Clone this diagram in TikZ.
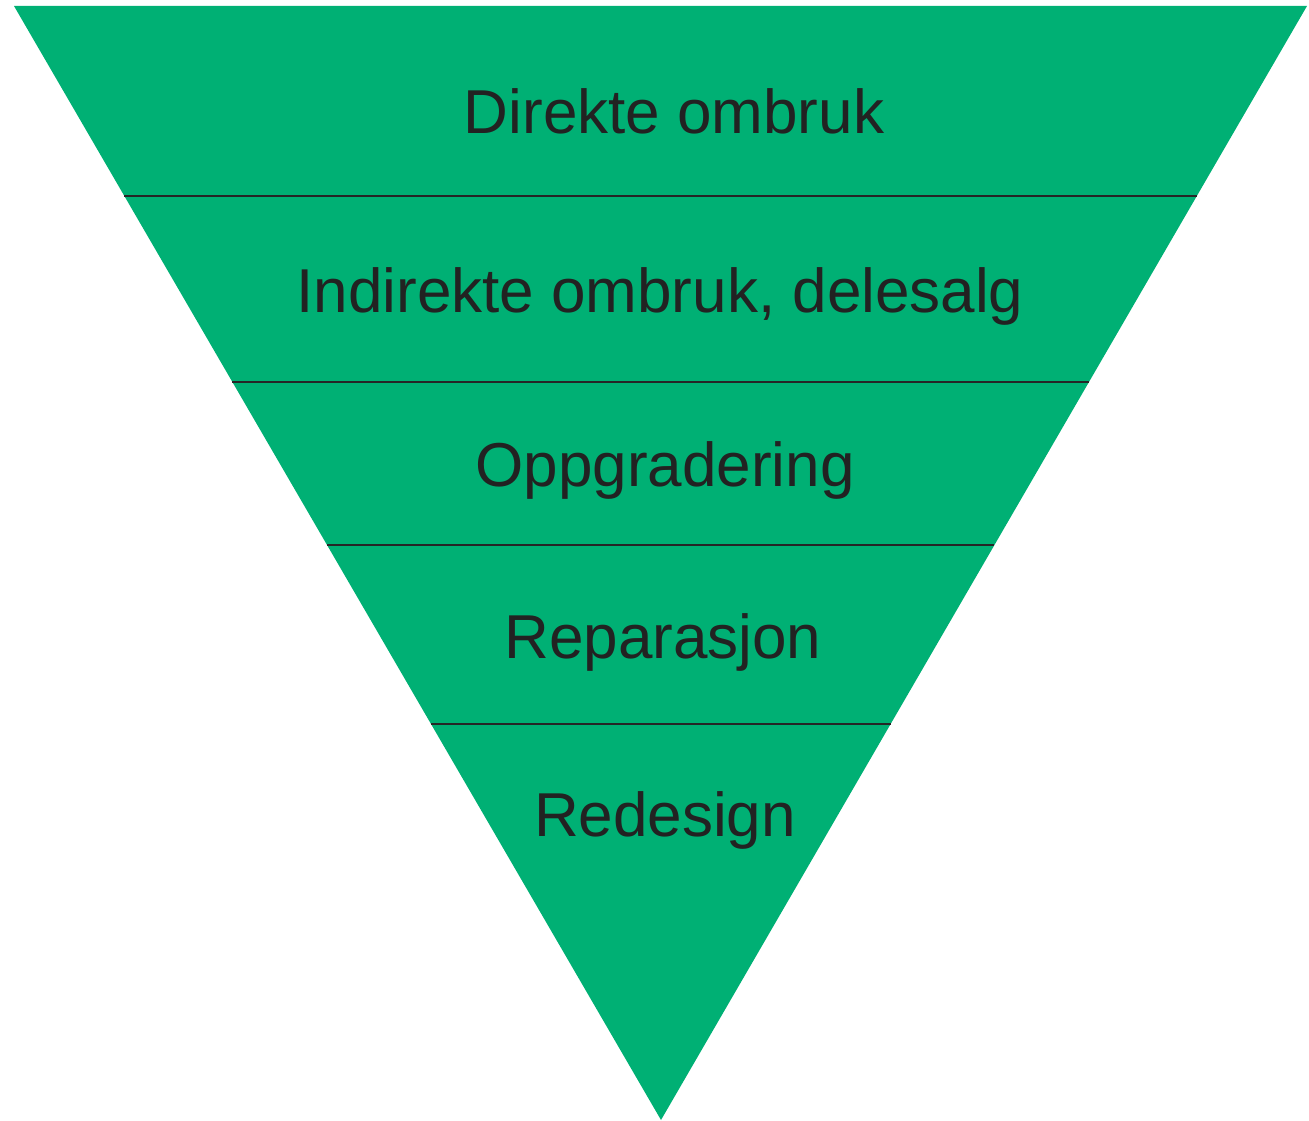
\documentclass[tikz,border=0pt]{standalone}
\usepackage{fontspec}
\setmainfont{Liberation Sans}
\usetikzlibrary{calc}
\definecolor{funnelgreen}{HTML}{00B074}
\definecolor{labelgray}{HTML}{222222}

\begin{document}
\begin{tikzpicture}[x=1pt,y=-1pt]
\tikzset{
	level/.style={draw=none, anchor=base, text=labelgray, inner sep=0pt, font=\fontsize{62}{70}\selectfont},
	divider/.style={draw=black!85, line width=1.2pt}
}
\useasboundingbox (0,0) rectangle (1309,1121);

\coordinate (tl) at (14,6);
\coordinate (tr) at (1307,6);
\coordinate (apex) at (661,1120);
\fill [funnelgreen] (tl) -- (tr) -- (apex) -- cycle;

% divider lines between the levels
\foreach \t/\n in {0.1706/a, 0.3375/b, 0.4838/c, 0.6445/d}
{
	\coordinate (l\n) at ($(tl)!\t!(apex)$);
	\coordinate (r\n) at ($(tr)!\t!(apex)$);
	\draw [divider] (l\n) -- (r\n);
}

\path (674,134) node[level] (direkte) {Direkte ombruk};
\path (660,312) node[level] (indirekte) {Indirekte ombruk, delesalg};
\path (665,486) node[level] (oppgr) {Oppgradering};
\path (663,658) node[level] (repar) {Reparasjon};
\path (665,836) node[level] (redesign) {Redesign};

\end{tikzpicture}
\end{document}
